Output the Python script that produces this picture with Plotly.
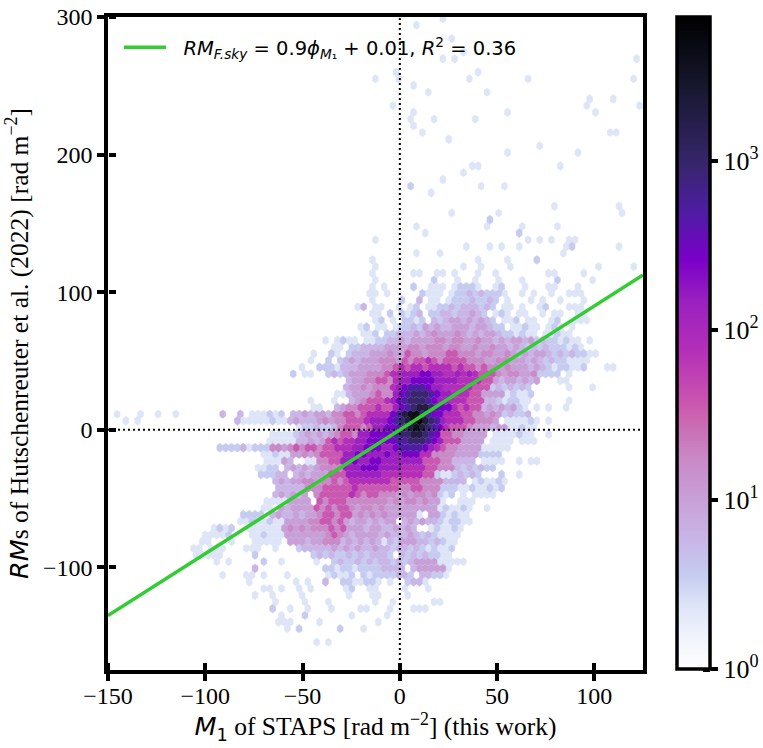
import math
import plotly.graph_objects as go
from plotly.colors import sample_colorscale

W, H = 763, 748
X_RANGE = [-150, 125]
Y_RANGE = [-174.5, 300]
X_TICKS = [-150, -100, -50, 0, 50, 100]
Y_TICKS = [-100, 0, 100, 200, 300]
CBAR_TICKS = [0, 1, 2, 3]
CBAR_MAX = 3.85
FIT_SLOPE = 0.9
FIT_INTERCEPT = 0.01

COUNT_BY_LEVEL = {"a": 2.3, "b": 3.6, "c": 5.9, "d": 10, "e": 17, "f": 36, "g": 77,
                  "h": 143, "i": 265, "j": 495, "k": 920, "l": 1860, "m": 3800, "n": 7000}

COLORSCALE = [[0, "#ffffff"], [.05, "#f0f3fb"], [.10, "#dce3f7"], [.143, "#c6ccf0"], [.2, "#c9b5e6"],
              [.26, "#c8a0d8"], [.32, "#c98ac8"], [.385, "#cb65b0"], [.42, "#c84fb0"], [.49, "#b32fb8"],
              [.565, "#9a20c0"], [.628, "#7a00c8"], [.70, "#4f1ca4"], [.77, "#38266e"], [.89, "#181830"],
              [1, "#000000"]]

# hexbin lattice cells: (row, first column, level per column)
CELLS = [
 (-59,55,"a"),(-58,51,"a"),(-56,57,"a"),(-54,59,"a"),(-53,55,"a.a"),(-53,88,"a"),(-51,47,"a"),(-51,61,"a"),
 (-50,44,"a...a"),(-50,60,"a"),(-50,70,"a"),(-50,88,"a"),(-49,50,"a"),(-48,53,"a"),(-48,63,"a"),(-47,80,"a"),(-47,84,"a"),
 (-46,47,"a"),(-46,80,"a"),(-46,89,"a"),(-45,50,"a"),(-45,66,"a"),(-45,81,"a"),(-44,50,"a"),(-44,54,"a"),(-44,61,"a"),
 (-43,50,"a"),(-42,52,"a"),(-42,84,"aa"),(-41,56,"a"),(-40,72,"a"),(-39,66,"a"),(-39,78,"a"),(-37,60,"aa"),(-37,75,"a"),
 (-36,59,"a"),(-35,55,"a"),(-34,50,"b"),(-34,62,"a"),(-34,66,"a"),(-33,53,"a"),(-31,74,"a"),(-31,85,"a"),
 (-30,57,"a"),(-30,65,"a"),(-30,86,"a"),(-29,63,"b"),(-28,51,"a"),(-28,63,"a"),(-28,69,"a"),(-28,75,"a"),(-27,52,"a"),(-27,68,"b"),
 (-26,44,"a"),(-26,70,"a"),(-26,72,"a"),(-26,74,"a"),(-26,77,"aa"),
 (-25,59,"a"),(-25,63,"a"),(-25,65,"a"),(-25,68,"a"),(-25,76,"ab"),(-25,85,"a"),(-24,51,"a"),(-24,55,"a"),(-24,76,"a"),
 (-23,43,"a"),(-23,61,"a"),(-23,66,"a"),(-23,71,"b"),(-22,44,"a"),(-22,59,"a"),(-22,62,"a"),(-22,67,"a"),(-22,82,"a"),(-22,88,"a"),
 (-21,43,"a"),(-21,50,"aa"),(-21,54,"aa"),(-21,57,"a"),(-21,61,"a"),(-21,64,"a"),(-21,73,"aa"),(-21,79,"a"),
 (-20,44,"a"),(-20,54,"b"),(-20,58,"a"),(-20,61,"a"),(-20,65,"a"),(-20,69,"a"),(-20,75,"b"),(-20,81,"a"),
 (-19,43,"a.a"),(-19,50,"b"),(-19,53,"aaa"),(-19,57,"abbba"),(-19,64,"ab"),(-19,69,"a"),(-19,73,"aa"),(-19,78,"a"),
 (-18,43,"aa.a"),(-18,52,"baaa"),(-18,57,"abbcbcbbba"),(-18,69,"a"),(-18,71,"a"),(-18,74,"a"),(-18,77,"aaa"),
 (-17,43,"a"),(-17,48,"b"),(-17,51,"c"),(-17,53,"aa.abbbcbbcb"),(-17,66,"a"),(-17,70,"a"),(-17,72,"a"),(-17,75,"a"),(-17,79,"a"),
 (-16,41,"ac"),(-16,44,"aa"),(-16,48,"a.ab"),(-16,53,"aabbcbcccbcb"),(-16,66,"aa"),(-16,69,"a"),(-16,72,"ab"),(-16,77,"aaa"),
 (-15,43,"aa.b"),(-15,48,"babc"),(-15,53,"bbccbccdcb"),(-15,64,"aba.aa"),(-15,72,"a.aa"),(-15,78,"aa"),
 (-14,44,"ab.a"),(-14,49,"bbab"),(-14,54,"cbcddcdcd"),(-14,63,"cb"),(-14,66,"aab"),(-14,70,"aa"),(-14,74,"ab"),(-14,78,"aaa"),
 (-13,41,"ab"),(-13,44,"aa"),(-13,47,"abbcbdcdccdddcdd"),(-13,63,"cbb.aabaa.aba.a"),
 (-12,42,"aab"),(-12,46,"bbcccdcdedddedcdcdd"),(-12,65,"cbbabaa.aabaa"),
 (-11,35,"a"),(-11,37,"abaa.aabbccdcddddeedeeddeddcdcddcdbcbbabaa.a"),
 (-10,37,"aa.bbccccddddeedeeedeeddeddeddcdcbcbcbbbaba"),
 (-9,33,"a"),(-9,36,"ba"),(-9,39,"bcccdddeddfeedeeeffeeedeeddedcdcddcbcbcbbaa"),
 (-8,33,"a"),(-8,36,"b"),(-8,38,"bcdcdddeeedfeffgfeffffeeeddeedddcdcbcbbaaaa"),
 (-7,31,"a"),(-7,34,"bbbacccdddd"),(-7,45,"eefgfggfggggfgffefeededddcdcbabbaab"),(-7,83,"aa"),
 (-6,30,"b"),(-6,32,"aa"),(-6,36,"bcb"),(-6,39,"cdddeeefgghhhiihhgghghgfffedeeddebbbb"),(-6,77,"a"),
 (-5,39,"cddeeffeghhiiiihhhhggggffdcddcdcd"),(-5,75,"aa"),
 (-4,39,"cddedeeeghijjjihhgggggfffbcbcbcb"),(-4,77,"a"),(-4,81,"a"),
 (-3,37,"aa"),(-3,39,"cdddefeehijkkkjihhgggffddddabaab"),
 (-2,33,"a"),(-2,37,"a"),(-2,40,"cdefffghijkkkjihhgggfffccbabbaa"),(-2,77,"a"),
 (-1,33,"aa"),(-1,37,"cd"),(-1,39,"eefffgffhijkllkjiigfgffcdcdcdba.a"),(-1,73,"a"),(-1,76,"a"),
 (0,0,"a"),(0,4,"a"),(0,7,"a"),(0,10,"a"),(0,18,"c"),(0,21,"c"),(0,23,"aaabab"),(0,30,"ccdcddceeffefggggijlmmkjiigggffeededbcbbc"),
 (1,1,"a"),(1,3,"a"),(1,20,"caaaaabaacdcccdedeefffghhhijklnnlkjhgggffeeed.aaaaba.a"),
 (2,31,"abbcbbcefffefhhiijklmlkjigfffedddcddaabaa"),
 (3,26,"aaaabcdcdcdeffehhiiiijkkllkjiffeedddd.aaaabaa"),(3,73,"a"),
 (4,26,"aaaaaccdcdfgfgghhiiiiijjkkkjihfffdddd.aaaa.aaa"),
 (5,17,"bbbbcabbb"),(5,26,"eedefeffeffggghhiiihhijjjjihgfeeddddaaaaa"),
 (6,25,"aabaaddedeffffhhiihhhihhiiiggeeeeddddbbbb"),
 (7,25,"aaa"),(7,28,"dc"),(7,32,"aa"),(7,34,"eeffhhihhiihhhhhhhfffeecccc.aaaa"),(7,68,"a"),(7,70,"aa"),
 (8,24,"aabb"),(8,29,"cdcdcdeeeehhhiiihhhhggggffeeecbcbcbb"),
 (9,24,"bbb"),(9,27,"cc"),(9,30,"cdcdddfffhhhhhhgggggggffbaabcbcb"),(9,65,"b"),(9,68,"a"),
 (10,27,"cdcddeedeefefgggggggfffffeeeecccc.abaaba"),
 (11,27,"ccccceeefffffgfffffffeeffeeebbbaabaabab"),
 (12,27,"cdcdcd.efffffgfeffeeededeedebab.a.aaaa"),
 (13,25,"aaaadddd.fefffeeeeeeededeededda"),(13,58,"aaa"),
 (14,25,"aa"),(14,28,"dcddddfefeffedeededddddddddabaaba"),(14,63,"a"),
 (15,21,"bbbb"),(15,26,"cdccdcddeffeffdedededdddda.ddbabaa"),
 (16,21,"aabaabaaddddeeffefdcddcdcdd.cdcdccbabbaa"),
 (17,16,"abab"),(17,22,"aaaaaa"),(17,28,"dededeeefefdddcddccdcdc"),(17,53,"abaaba"),
 (18,15,"aaaab"),(18,23,"aabaaa"),(18,29,"dddddddefedcddddcdcccdcbcbaaaa"),
 (19,14,"aa"),(19,19,"a"),(19,23,"aaaaa"),(19,29,"dddcddeeecdcdcdcacbdddccbcbaa"),
 (20,13,"aa"),(20,16,"aaa"),(20,22,"aaa"),(20,27,"a"),(20,31,"bcccccdcdcdccdccbccbcbabaab"),
 (21,13,"aaaaa"),(21,23,"b"),(21,33,"bcbcbbcbcbcccb.cbcbcbbaa"),
 (22,17,"a"),(22,19,"a"),(22,25,"b"),(22,28,"a"),(22,34,"a"),(22,37,"bcbbcbcbccbcbcddddaaaaa"),
 (23,23,"c"),(23,35,"bbabbabbbbcccc.cddddda"),
 (24,18,"a"),(24,22,"aa"),(24,25,"a"),(24,29,"a"),(24,36,"abaab.babbbbccb.ccbba"),
 (25,22,"a"),(25,30,"a"),(25,32,"a"),(25,35,"c"),(25,38,"bbaa"),(25,42,"bb"),(25,44,"a"),(25,46,"a"),(25,49,"bcca"),
 (26,25,"aa"),(26,28,"a"),(26,31,"a"),(26,33,"a"),(26,39,"ab"),(26,43,"aa"),(26,49,"a"),(26,53,"a"),
 (27,23,"a"),(27,26,"a"),(27,31,"a"),(27,39,"a"),(27,43,"aa"),(27,49,"a"),
 (28,27,"a"),(28,32,"a"),(28,36,"a"),(28,44,"a"),(28,47,"a"),(28,54,"aa"),
 (29,26,"b"),(29,29,"a"),(29,32,"a"),(29,36,"a"),(29,41,"aa"),(29,46,"a"),(29,50,"aaa"),
 (30,28,"a"),(30,32,"b"),(30,40,"a"),(30,46,"a"),
 (31,27,"aaa"),(31,34,"a"),(31,44,"a"),
 (32,29,"a"),(32,31,"b"),(32,38,"b"),(32,42,"a"),
 (34,34,"a.a"),
]

# lattice geometry in data units
LATTICE_X0, LATTICE_DX = -145.35, 3.018
LATTICE_Y0, LATTICE_DY = 11.42, 4.873
HEX_H_ODD, HEX_H_EVEN = 6.5, 6.0


def frac(level):
    return math.log10(COUNT_BY_LEVEL[level]) / CBAR_MAX


def fx(px):
    return px / W


def fy(px):
    return 1 - px / H


fig = go.Figure()
centre_x, centre_y, centre_v = [], [], []
for parity in (0, 1):
    polys = {lv: ([], []) for lv in COUNT_BY_LEVEL}
    for k, start, text in CELLS:
        if k % 2 != parity:
            continue
        for i, lv in enumerate(text):
            if lv == ".":
                continue
            cx = LATTICE_X0 + (start + i + 0.5 * parity) * LATTICE_DX
            cy = LATTICE_Y0 - k * LATTICE_DY
            h = HEX_H_ODD if parity else HEX_H_EVEN
            w = LATTICE_DX / 2
            xs, ys = polys[lv]
            xs += [cx, cx + w, cx + w, cx, cx - w, cx - w, cx, None]
            ys += [cy + h / 2, cy + h / 4, cy - h / 4, cy - h / 2, cy - h / 4, cy + h / 4, cy + h / 2, None]
            centre_x.append(cx)
            centre_y.append(cy)
            centre_v.append(math.log10(COUNT_BY_LEVEL[lv]))
    for lv, (xs, ys) in polys.items():
        if not xs:
            continue
        colour = sample_colorscale(COLORSCALE, [frac(lv)])[0]
        fig.add_trace(go.Scatter(x=xs, y=ys, mode="lines", fill="toself", fillcolor=colour,
                                 line=dict(color=colour, width=0.5), hoverinfo="skip", showlegend=False))

serif = "Liberation Serif"
tick_font = dict(family=serif, size=24, color="black")

# transparent carrier of the colour bar
fig.add_trace(go.Scatter(
    x=centre_x, y=centre_y, mode="markers", showlegend=False, hoverinfo="skip",
    marker=dict(size=1, opacity=0, color=centre_v, cmin=0, cmax=CBAR_MAX, colorscale=COLORSCALE,
                colorbar=dict(x=fx(677), xanchor="left", xpad=0, ypad=0, thickness=33, thicknessmode="pixels",
                              len=652 / H, lenmode="fraction", y=fy(17), yanchor="top",
                              outlinewidth=3.5, outlinecolor="black", borderwidth=0,
                              tickmode="array", tickvals=CBAR_TICKS,
                              ticktext=[f"10<sup>{t}</sup>" for t in CBAR_TICKS],
                              ticks="outside", ticklen=7, tickwidth=3.5, tickcolor="black",
                              tickfont=dict(family=serif, size=26, color="black")))))

# reference lines and fit
fig.add_trace(go.Scatter(x=X_RANGE, y=[0, 0], mode="lines", line=dict(color="black", width=2, dash="2px,3px"),
                         hoverinfo="skip", showlegend=False))
fig.add_trace(go.Scatter(x=[0, 0], y=Y_RANGE, mode="lines", line=dict(color="black", width=2, dash="2px,3px"),
                         hoverinfo="skip", showlegend=False))
fit_x = X_RANGE
fit_y = [FIT_SLOPE * v + FIT_INTERCEPT for v in fit_x]
fig.add_trace(go.Scatter(
    x=fit_x, y=fit_y, mode="lines", line=dict(color="#32cd32", width=3.5), hoverinfo="skip",
    name="&nbsp;&nbsp;<i>RM</i><sub><i>F.sky</i></sub> = 0.9<i>ϕ</i><sub><i>M</i>₁</sub> + 0.01, <i>R</i><sup>2</sup> = 0.36"))

# companion axes carrying the inner half of the ticks
fig.add_trace(go.Scatter(x=[0], y=[0], xaxis="x2", yaxis="y2", mode="markers", marker=dict(opacity=0),
                         hoverinfo="skip", showlegend=False))
fig.add_trace(go.Scatter(x=[0], y=[0], xaxis="x", yaxis="y3", mode="markers", marker=dict(opacity=0),
                         hoverinfo="skip", showlegend=False))

dom_x = [fx(108), fx(643)]
dom_y = [fy(670), fy(17)]
title_font = dict(family=serif, size=25.5, color="black")
fig.update_layout(
    width=W, height=H, margin=dict(l=0, r=0, t=0, b=0), paper_bgcolor="white", plot_bgcolor="white",
    showlegend=True,
    legend=dict(x=fx(119), y=fy(28), xanchor="left", yanchor="top", bgcolor="rgba(0,0,0,0)", itemwidth=42,
                font=dict(family="DejaVu Sans", size=19.5, color="black")),
    xaxis=dict(domain=dom_x, range=X_RANGE, tickvals=X_TICKS, showgrid=False, zeroline=False, mirror=True,
               showline=True, linewidth=3.5, linecolor="black", ticks="outside", ticklen=7, tickwidth=3.5,
               tickcolor="black", tickfont=tick_font, automargin=False, ticklabelstandoff=-6,
               title=dict(text='<span style="font-family:DejaVu Sans"><i>M</i><sub>1</sub></span> of STAPS [rad m<sup>−2</sup>] (this work)',
                          font=title_font, standoff=6)),
    yaxis=dict(domain=dom_y, range=Y_RANGE, tickvals=Y_TICKS, showgrid=False, zeroline=False, mirror=True,
               showline=True, linewidth=3.5, linecolor="black", ticks="outside", ticklen=7, tickwidth=3.5,
               tickcolor="black", tickfont=tick_font, automargin=False,
               title=dict(text='<span style="font-family:DejaVu Sans"><i>RM</i></span>s of Hutschenreuter et al. (2022) [rad m<sup>−2</sup>]',
                          font=title_font, standoff=8)),
    xaxis2=dict(overlaying="x", domain=dom_x, range=X_RANGE, tickvals=X_TICKS, side="top", anchor="free",
                position=dom_y[0], showgrid=False, zeroline=False, showline=False, showticklabels=False,
                ticks="outside", ticklen=7, tickwidth=3.5, tickcolor="black"),
    yaxis2=dict(overlaying="y", domain=dom_y, range=Y_RANGE, tickvals=Y_TICKS, side="right", anchor="free",
                position=dom_x[0], showgrid=False, zeroline=False, showline=False, showticklabels=False,
                ticks="outside", ticklen=7, tickwidth=3.5, tickcolor="black"),
    yaxis3=dict(overlaying="y", domain=dom_y, range=[0, CBAR_MAX], tickvals=CBAR_TICKS, side="left", anchor="free",
                position=fx(710), showgrid=False, zeroline=False, showline=False, showticklabels=False,
                ticks="outside", ticklen=7, tickwidth=3.5, tickcolor="black"),
)
fig.write_html("out.html", post_script="document.body.style.margin='0px';", config={"displayModeBar": False})
